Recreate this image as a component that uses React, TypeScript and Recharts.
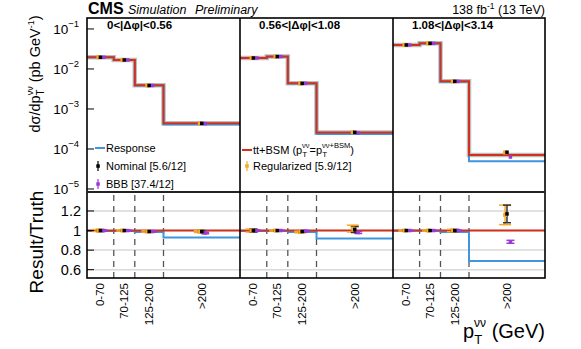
import { ComposedChart, Line, Scatter, ErrorBar, XAxis, YAxis, ReferenceLine } from 'recharts'

const binLabels = ['0-70', '70-125', '125-200', '>200']
const binEdges = [0, 70, 125, 200, 400]
const binCenters = [35, 97.5, 162.5, 300]
const panelTitles = ['0<|Δφ|<0.56', '0.56<|Δφ|<1.08', '1.08<|Δφ|<3.14']
const logTicks = [1e-5, 1e-4, 1e-3, 1e-2, 1e-1]
const ratioTicks = [0.6, 0.8, 1, 1.2]
const dashedEdges = [70, 125, 200]

// dσ/dpT (pb/GeV), one row per |Δφ| panel
const truthBSM = [
  [0.0196, 0.0168, 0.0039, 0.00044],
  [0.0188, 0.0204, 0.0044, 0.000257],
  [0.0398, 0.0437, 0.0049, 0.000071],
]
const response = [
  [0.0195, 0.0167, 0.00385, 0.00041],
  [0.0187, 0.0203, 0.00434, 0.000237],
  [0.0397, 0.0436, 0.0048, 0.000049],
]
const nominal = [
  [0.0196, 0.0168, 0.00386, 0.000436],
  [0.0188, 0.0204, 0.00436, 0.00026],
  [0.0398, 0.0437, 0.0049, 0.000083],
]
const regularized = [
  [0.0196, 0.0168, 0.00386, 0.000436],
  [0.0188, 0.0204, 0.00434, 0.000262],
  [0.0398, 0.0437, 0.0049, 0.000082],
]
const bbb = [
  [0.0196, 0.0168, 0.00386, 0.00043],
  [0.0188, 0.0204, 0.00438, 0.000252],
  [0.0398, 0.0437, 0.0049, 0.000063],
]

// Result / Truth
const truthRatio = [1, 1, 1, 1]
const responseRatio = [
  [0.995, 0.995, 0.985, 0.93],
  [0.995, 0.995, 0.985, 0.92],
  [0.997, 0.997, 0.985, 0.69],
]
const nominalRatio = [
  [1.0, 1.0, 0.99, 0.99],
  [1.0, 1.0, 0.99, 1.01],
  [1.0, 1.0, 1.0, 1.17],
]
const nominalErr = [
  [0.01, 0.006, 0.008, 0.01],
  [0.015, 0.006, 0.008, 0.03],
  [0.006, 0.006, 0.01, 0.09],
]
const regularizedRatio = [
  [1.0, 1.0, 0.99, 0.99],
  [1.0, 1.0, 0.985, 1.02],
  [1.0, 1.0, 1.0, 1.16],
]
const regularizedErr = [
  [0.01, 0.006, 0.008, 0.01],
  [0.015, 0.006, 0.008, 0.035],
  [0.006, 0.006, 0.012, 0.1],
]
const bbbRatio = [
  [1.0, 1.0, 0.99, 0.975],
  [1.0, 1.0, 0.995, 0.98],
  [1.0, 1.0, 1.0, 0.885],
]
const bbbErr = [
  [0.005, 0.004, 0.005, 0.008],
  [0.005, 0.004, 0.005, 0.01],
  [0.004, 0.004, 0.005, 0.015],
]

const RED = '#d0301c'
const BLUE = '#3f95e0'
const ORANGE = '#f9a825'
const PURPLE = '#9b3ad8'
const FONT = '"Liberation Sans", Arial, sans-serif'

const X0 = 87
const PANEL_W = [153, 153, 152]
const TOP_Y = 18
const MID_Y = 192
const BOT_Y = 278
const TOP_PAD = 12 // room below the log panel so the 10^-5 label is not clipped

const step = (vals: number[]) => binEdges.map((x, i) => ({ x, y: vals[Math.min(i, vals.length - 1)] }))
const pts = (vals: number[], errs: number[] | null, shift: number) =>
  binCenters.map((c, i) => ({ x: c + shift, y: vals[i], err: errs ? errs[i] : 0 }))

const square = (color: string, s: number) => (p: any) =>
  <rect x={p.cx - s / 2} y={p.cy - s / 2} width={s} height={s} fill={color} />

function LogTick({ x, y, payload }: any) {
  const exp = Math.round(Math.log10(payload.value))
  return (
    <g>
      <line x1={X0} x2={X0 + 7} y1={y} y2={y} stroke="#000" strokeWidth={1} />
      <text x={x} y={y + 5} textAnchor="end" fontSize={13.5} fill="#000" fontFamily={FONT}>
        10<tspan dy={-7} fontSize={9.5}>{'\u2212' + Math.abs(exp)}</tspan>
      </text>
    </g>
  )
}

function RatioTick({ x, y, payload }: any) {
  return (
    <g>
      <line x1={X0} x2={X0 + 7} y1={y} y2={y} stroke="#000" strokeWidth={1} />
      <text x={x + 2} y={y + 5} textAnchor="end" fontSize={14.5} fill="#000" fontFamily={FONT}>
        {String(payload.value)}
      </text>
    </g>
  )
}

function BinTick({ x, y, index }: any) {
  return (
    <text x={x} y={y} transform={`rotate(-90 ${x} ${y})`} textAnchor="end" dominantBaseline="central"
      fontSize={11.5} fill="#000" fontFamily={FONT}>
      {binLabels[index]}
    </text>
  )
}

function TopPanel({ i }: { i: number }) {
  const first = i === 0
  const w = PANEL_W[i] + (first ? X0 : 0)
  const left = first ? 0 : X0 + PANEL_W.slice(0, i).reduce((a, b) => a + b, 0)
  return (
    <div style={{ position: 'absolute', left, top: 0 }}>
      <ComposedChart width={w} height={MID_Y + TOP_PAD} margin={{ top: TOP_Y, right: 0, bottom: TOP_PAD, left: 0 }}>
        <XAxis type="number" dataKey="x" domain={[0, 400]} hide allowDataOverflow />
        <YAxis type="number" dataKey="y" scale="log" domain={[8.4e-6, 0.188]} allowDataOverflow
          ticks={logTicks} interval={0} hide={!first} width={X0} axisLine={false} tickLine={false}
          tick={<LogTick />} />
        <Line data={step(truthBSM[i])} dataKey="y" type="stepAfter" stroke="#bdbdbd" strokeWidth={4.5}
          dot={false} activeDot={false} isAnimationActive={false} />
        <Line data={step(response[i])} dataKey="y" type="stepAfter" stroke={BLUE} strokeWidth={2}
          dot={false} activeDot={false} isAnimationActive={false} />
        <Line data={step(truthBSM[i])} dataKey="y" type="stepAfter" stroke={RED} strokeWidth={2}
          dot={false} activeDot={false} isAnimationActive={false} />
        <Scatter data={pts(regularized[i], null, -5)} shape={square(ORANGE, 4)} isAnimationActive={false} />
        <Scatter data={pts(bbb[i], null, 9)} shape={square(PURPLE, 3.5)} isAnimationActive={false} />
        <Scatter data={pts(nominal[i], null, 0)} shape={square('#000', 3.5)} isAnimationActive={false} />
      </ComposedChart>
    </div>
  )
}

function RatioPanel({ i }: { i: number }) {
  const first = i === 0
  const w = PANEL_W[i] + (first ? X0 : 0)
  const left = first ? 0 : X0 + PANEL_W.slice(0, i).reduce((a, b) => a + b, 0)
  const h = 349 - MID_Y
  return (
    <div style={{ position: 'absolute', left, top: MID_Y }}>
      <ComposedChart width={w} height={h} margin={{ top: 0, right: 0, bottom: 0, left: 0 }}>
        <XAxis type="number" dataKey="x" domain={[0, 400]} allowDataOverflow ticks={binCenters}
          height={h - (BOT_Y - MID_Y)} axisLine={false} tickLine={false} tickSize={0} tickMargin={5}
          tick={<BinTick />} interval={0} />
        <YAxis type="number" dataKey="y" domain={[0.515, 1.394]} allowDataOverflow ticks={ratioTicks}
          interval={0} hide={!first} width={X0} axisLine={false} tickLine={false} tick={<RatioTick />} />
        {ratioTicks.map((v) => (
          <ReferenceLine key={v} y={v} stroke="#d9d9d9" strokeWidth={1.5} />
        ))}
        {dashedEdges.map((v) => (
          <ReferenceLine key={v} x={v} stroke="#555" strokeWidth={1.3} strokeDasharray="6 5" />
        ))}
        <Line data={step(responseRatio[i])} dataKey="y" type="stepAfter" stroke={BLUE} strokeWidth={2}
          dot={false} activeDot={false} isAnimationActive={false} />
        <Line data={step(truthRatio)} dataKey="y" type="stepAfter" stroke={RED} strokeWidth={2}
          dot={false} activeDot={false} isAnimationActive={false} />
        <Scatter data={pts(regularizedRatio[i], regularizedErr[i], -5)} shape={square(ORANGE, 4)} isAnimationActive={false}>
          <ErrorBar dataKey="err" direction="y" width={6} stroke={ORANGE} strokeWidth={1.5} />
        </Scatter>
        <Scatter data={pts(bbbRatio[i], bbbErr[i], 9)} shape={square(PURPLE, 3.5)} isAnimationActive={false}>
          <ErrorBar dataKey="err" direction="y" width={4} stroke={PURPLE} strokeWidth={1.5} />
        </Scatter>
        <Scatter data={pts(nominalRatio[i], nominalErr[i], 0)} shape={square('#000', 3.5)} isAnimationActive={false}>
          <ErrorBar dataKey="err" direction="y" width={4} stroke="#333" strokeWidth={1.5} />
        </Scatter>
      </ComposedChart>
    </div>
  )
}

function Overlay() {
  const x1 = X0 + PANEL_W[0]
  const x2 = x1 + PANEL_W[1]
  const xr = x2 + PANEL_W[2]
  const titleX = [X0 + 20, x1 + 19, x2 + 19]
  return (
    <svg width={581} height={349} style={{ position: 'absolute', left: 0, top: 0, pointerEvents: 'none' }}
      fontFamily={FONT}>
      <rect x={X0} y={TOP_Y} width={xr - X0} height={BOT_Y - TOP_Y} fill="none" stroke="#000" strokeWidth={1.6} />
      <line x1={X0} x2={xr} y1={MID_Y} y2={MID_Y} stroke="#222" strokeWidth={2.2} />
      <line x1={x1} x2={x1} y1={TOP_Y} y2={BOT_Y} stroke="#000" strokeWidth={1.6} />
      <line x1={x2} x2={x2} y1={TOP_Y} y2={BOT_Y} stroke="#000" strokeWidth={1.6} />

      <text x={88} y={14} fontSize={16} fontWeight="bold">CMS</text>
      <text x={128} y={14} fontSize={12.5} fontStyle="italic">Simulation</text>
      <text x={195} y={14} fontSize={12.5} fontStyle="italic">Preliminary</text>
      <text x={xr} y={14} fontSize={12.5} textAnchor="end">
        138 fb<tspan dy={-5} fontSize={8.5}>-1</tspan><tspan dy={5}> (13 TeV)</tspan>
      </text>

      {panelTitles.map((t, k) => (
        <text key={t} x={titleX[k]} y={29} fontSize={11.5} fontWeight="bold">{t}</text>
      ))}

      <text transform="translate(40,74) rotate(-90)" textAnchor="middle" fontSize={14.5}>
        dσ/dp<tspan dy={4} fontSize={10}>T</tspan><tspan dx={-6} dy={-11} fontSize={9}>νν</tspan>
        <tspan dy={7}> (pb GeV</tspan><tspan dy={-6} fontSize={9}>-1</tspan><tspan dy={6}>)</tspan>
      </text>
      <text transform="translate(43,242) rotate(-90)" textAnchor="middle" fontSize={19}>Result/Truth</text>

      <text x={xr} y={338} textAnchor="end" fontSize={20}>
        p<tspan dy={6} fontSize={13}>T</tspan><tspan dx={-8} dy={-17} fontSize={12}>νν</tspan>
        <tspan dy={11}>  (GeV)</tspan>
      </text>

      {/* legend, left column */}
      <line x1={95} x2={105} y1={148} y2={148} stroke={BLUE} strokeWidth={2} />
      <text x={106} y={152} fontSize={11}>Response</text>
      <line x1={98} x2={98} y1={161} y2={171} stroke="#000" strokeWidth={1.2} />
      <rect x={96.3} y={164.3} width={3.5} height={3.5} fill="#000" />
      <text x={106} y={170} fontSize={11}>Nominal [5.6/12]</text>
      <line x1={98} x2={98} y1={179} y2={189} stroke={PURPLE} strokeWidth={1.2} />
      <rect x={96.3} y={182.3} width={3.5} height={3.5} fill={PURPLE} />
      <text x={106} y={188} fontSize={11}>BBB [37.4/12]</text>

      {/* legend, middle column */}
      <line x1={242} x2={252} y1={150} y2={150} stroke={RED} strokeWidth={2} />
      <text x={253} y={154} fontSize={11}>
        tt+BSM (p<tspan dy={3} fontSize={8}>T</tspan><tspan dx={-5} dy={-9} fontSize={7.5}>νν</tspan>
        <tspan dy={6}>=p</tspan><tspan dy={3} fontSize={8}>T</tspan><tspan dx={-5} dy={-9} fontSize={7.5}>νν+BSM</tspan>
        <tspan dy={6}>)</tspan>
      </text>
      <line x1={247} x2={247} y1={161} y2={171} stroke={ORANGE} strokeWidth={1.2} />
      <rect x={245.2} y={164.2} width={3.6} height={3.6} fill={ORANGE} />
      <text x={253} y={170} fontSize={11}>Regularized [5.9/12]</text>
    </svg>
  )
}

export default function App() {
  return (
    <div style={{ position: 'absolute', left: 0, top: 0, width: 581, height: 349, background: '#fff', fontFamily: FONT }}>
      {[0, 1, 2].map((i) => (
        <TopPanel key={`t${i}`} i={i} />
      ))}
      {[0, 1, 2].map((i) => (
        <RatioPanel key={`r${i}`} i={i} />
      ))}
      <Overlay />
    </div>
  )
}
